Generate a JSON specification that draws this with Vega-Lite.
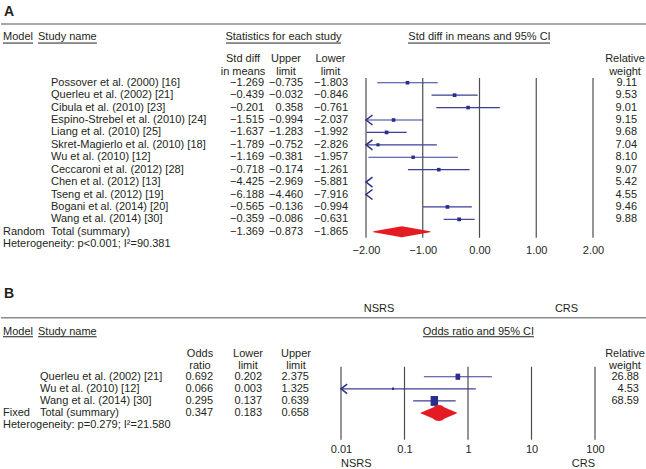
{
  "$schema": "https://vega.github.io/schema/vega-lite/v6.json",
  "padding": {"left": 0, "top": 2, "right": 0, "bottom": 0},
  "bounds": "full",
  "spacing": 30,
  "datasets": {
    "A": [
      {"row": "r1", "study": "Possover et al. (2000) [16]", "est": -1.269, "upper": -0.735, "lower": -1.803, "weight": 9.11},
      {"row": "r2", "study": "Querleu et al. (2002) [21]", "est": -0.439, "upper": -0.032, "lower": -0.846, "weight": 9.53},
      {"row": "r3", "study": "Cibula et al. (2010) [23]", "est": -0.201, "upper": 0.358, "lower": -0.761, "weight": 9.01},
      {"row": "r4", "study": "Espino-Strebel et al. (2010) [24]", "est": -1.515, "upper": -0.994, "lower": -2.037, "weight": 9.15},
      {"row": "r5", "study": "Liang et al. (2010) [25]", "est": -1.637, "upper": -1.283, "lower": -1.992, "weight": 9.68},
      {"row": "r6", "study": "Skret-Magierlo et al. (2010) [18]", "est": -1.789, "upper": -0.752, "lower": -2.826, "weight": 7.04},
      {"row": "r7", "study": "Wu et al. (2010) [12]", "est": -1.169, "upper": -0.381, "lower": -1.957, "weight": 8.10},
      {"row": "r8", "study": "Ceccaroni et al. (2012) [28]", "est": -0.718, "upper": -0.174, "lower": -1.261, "weight": 9.07},
      {"row": "r9", "study": "Chen et al. (2012) [13]", "est": -4.425, "upper": -2.969, "lower": -5.881, "weight": 5.42},
      {"row": "r10", "study": "Tseng et al. (2012) [19]", "est": -6.188, "upper": -4.460, "lower": -7.916, "weight": 4.55},
      {"row": "r11", "study": "Bogani et al. (2014) [20]", "est": -0.565, "upper": -0.136, "lower": -0.994, "weight": 9.46},
      {"row": "r12", "study": "Wang et al. (2014) [30]", "est": -0.359, "upper": -0.086, "lower": -0.631, "weight": 9.88},
      {"row": "total", "model": "Random", "study": "Total (summary)", "est": -1.369, "upper": -0.873, "lower": -1.865}
    ],
    "B": [
      {"row": "r1", "study": "Querleu et al. (2002) [21]", "odds": 0.692, "lower": 0.202, "upper": 2.375, "weight": 26.88},
      {"row": "r2", "study": "Wu et al. (2010) [12]", "odds": 0.066, "lower": 0.003, "upper": 1.325, "weight": 4.53},
      {"row": "r3", "study": "Wang et al. (2014) [30]", "odds": 0.295, "lower": 0.137, "upper": 0.639, "weight": 68.59},
      {"row": "total", "model": "Fixed", "study": "Total (summary)", "odds": 0.347, "lower": 0.183, "upper": 0.658}
    ]
  },
  "vconcat": [
    {
      "bounds": "flush",
      "spacing": 0,
      "hconcat": [
        {
          "width": 37, "height": 248.4,
          "encoding": {"y": {"field": "row", "type": "nominal", "axis": null, "scale": {"type": "point", "padding": 0.5, "domain": ["lbl","top","hdr","x1","sub","x2","r1","r2","r3","r4","r5","r6","r7","r8","r9","r10","r11","r12","total","het"]}}},
          "layer": [
            {"data": {"values": [{"row": "top"}]}, "mark": {"type": "rule", "color": "#8c8c8c", "strokeWidth": 1.5, "yOffset": 3.4}},
            {"data": {"values": [{"row": "lbl", "label": "A"}]}, "mark": {"type": "text", "align": "left", "fontSize": 14, "fontWeight": "bold", "yOffset": 3.8}, "encoding": {"x": {"datum": 0.08, "type": "quantitative", "scale": {"domain": [0, 1]}, "axis": null}, "text": {"field": "label"}}},
            {"data": {"values": [{"row": "hdr", "label": "Model"}]}, "mark": {"type": "text", "align": "left", "yOffset": 4}, "encoding": {"x": {"datum": 0.054, "type": "quantitative", "scale": {"domain": [0, 1]}, "axis": null}, "text": {"field": "label"}}},
            {"data": {"values": [{"row": "hdr"}]}, "mark": {"type": "rule", "color": "#231f20", "strokeWidth": 1, "yOffset": 10}, "encoding": {"x": {"datum": 0.054, "type": "quantitative", "scale": {"domain": [0, 1]}, "axis": null}, "x2": {"datum": 0.865}}},
            {"data": {"name": "A"}, "transform": [{"filter": "datum.row === 'total'"}], "mark": {"type": "text", "align": "left"}, "encoding": {"x": {"datum": 0.054, "type": "quantitative", "scale": {"domain": [0, 1]}, "axis": null}, "text": {"field": "model"}}},
            {"data": {"values": [{"row": "het", "label": "Heterogeneity: p<0.001; I²=90.381"}]}, "mark": {"type": "text", "align": "left"}, "encoding": {"x": {"datum": 0.054, "type": "quantitative", "scale": {"domain": [0, 1]}, "axis": null}, "text": {"field": "label"}}}
          ]
        },
        {
          "width": 168, "height": 248.4,
          "encoding": {"y": {"field": "row", "type": "nominal", "axis": null, "scale": {"type": "point", "padding": 0.5, "domain": ["lbl","top","hdr","x1","sub","x2","r1","r2","r3","r4","r5","r6","r7","r8","r9","r10","r11","r12","total","het"]}}},
          "layer": [
            {"data": {"values": [{"row": "top"}]}, "mark": {"type": "rule", "color": "#8c8c8c", "strokeWidth": 1.5, "yOffset": 3.4}},
            {"data": {"values": [{"row": "hdr", "label": "Study name"}]}, "mark": {"type": "text", "align": "left", "yOffset": 4}, "encoding": {"x": {"datum": 0, "type": "quantitative", "scale": {"domain": [0, 1]}, "axis": null}, "text": {"field": "label"}}},
            {"data": {"values": [{"row": "hdr"}]}, "mark": {"type": "rule", "color": "#231f20", "strokeWidth": 1, "yOffset": 10}, "encoding": {"x": {"datum": 0, "type": "quantitative", "scale": {"domain": [0, 1]}, "axis": null}, "x2": {"datum": 0.351}}},
            {"data": {"name": "A"}, "mark": {"type": "text", "align": "left"}, "encoding": {"x": {"datum": 0.0774, "type": "quantitative", "scale": {"domain": [0, 1]}, "axis": null}, "text": {"field": "study"}}}
          ]
        },
        {
          "width": 60, "height": 248.4,
          "encoding": {"y": {"field": "row", "type": "nominal", "axis": null, "scale": {"type": "point", "padding": 0.5, "domain": ["lbl","top","hdr","x1","sub","x2","r1","r2","r3","r4","r5","r6","r7","r8","r9","r10","r11","r12","total","het"]}}},
          "layer": [
            {"data": {"values": [{"row": "top"}]}, "mark": {"type": "rule", "color": "#8c8c8c", "strokeWidth": 1.5, "yOffset": 3.4}},
            {"data": {"values": [{"row": "sub", "label": "Std diff\nin means"}]}, "mark": {"type": "text", "align": "center", "yOffset": 1.2, "lineBreak": "\n", "lineHeight": 12.5}, "encoding": {"x": {"datum": 0.617, "type": "quantitative", "scale": {"domain": [0, 1]}, "axis": null}, "text": {"field": "label"}}},
            {"data": {"name": "A"}, "mark": {"type": "text", "align": "right"}, "encoding": {"x": {"datum": 0.967, "type": "quantitative", "scale": {"domain": [0, 1]}, "axis": null}, "text": {"field": "est", "type": "quantitative", "format": ".3f"}}}
          ]
        },
        {
          "width": 40, "height": 248.4,
          "encoding": {"y": {"field": "row", "type": "nominal", "axis": null, "scale": {"type": "point", "padding": 0.5, "domain": ["lbl","top","hdr","x1","sub","x2","r1","r2","r3","r4","r5","r6","r7","r8","r9","r10","r11","r12","total","het"]}}},
          "layer": [
            {"data": {"values": [{"row": "top"}]}, "mark": {"type": "rule", "color": "#8c8c8c", "strokeWidth": 1.5, "yOffset": 3.4}},
            {"data": {"values": [{"row": "hdr", "label": "Statistics for each study"}]}, "mark": {"type": "text", "align": "center", "yOffset": 4}, "encoding": {"x": {"datum": 0.4375, "type": "quantitative", "scale": {"domain": [0, 1]}, "axis": null}, "text": {"field": "label"}}},
            {"data": {"values": [{"row": "hdr"}]}, "mark": {"type": "rule", "color": "#231f20", "strokeWidth": 1, "yOffset": 10}, "encoding": {"x": {"datum": -1.0, "type": "quantitative", "scale": {"domain": [0, 1]}, "axis": null}, "x2": {"datum": 1.875}}},
            {"data": {"values": [{"row": "sub", "label": "Upper\nlimit"}]}, "mark": {"type": "text", "align": "center", "yOffset": 1.2, "lineBreak": "\n", "lineHeight": 12.5}, "encoding": {"x": {"datum": 0.5, "type": "quantitative", "scale": {"domain": [0, 1]}, "axis": null}, "text": {"field": "label"}}},
            {"data": {"name": "A"}, "mark": {"type": "text", "align": "right"}, "encoding": {"x": {"datum": 0.925, "type": "quantitative", "scale": {"domain": [0, 1]}, "axis": null}, "text": {"field": "upper", "type": "quantitative", "format": ".3f"}}}
          ]
        },
        {
          "width": 60, "height": 248.4,
          "encoding": {"y": {"field": "row", "type": "nominal", "axis": null, "scale": {"type": "point", "padding": 0.5, "domain": ["lbl","top","hdr","x1","sub","x2","r1","r2","r3","r4","r5","r6","r7","r8","r9","r10","r11","r12","total","het"]}}},
          "layer": [
            {"data": {"values": [{"row": "top"}]}, "mark": {"type": "rule", "color": "#8c8c8c", "strokeWidth": 1.5, "yOffset": 3.4}},
            {"data": {"values": [{"row": "sub", "label": "Lower\nlimit"}]}, "mark": {"type": "text", "align": "center", "yOffset": 1.2, "lineBreak": "\n", "lineHeight": 12.5}, "encoding": {"x": {"datum": 0.408, "type": "quantitative", "scale": {"domain": [0, 1]}, "axis": null}, "text": {"field": "label"}}},
            {"data": {"name": "A"}, "mark": {"type": "text", "align": "right"}, "encoding": {"x": {"datum": 0.7, "type": "quantitative", "scale": {"domain": [0, 1]}, "axis": null}, "text": {"field": "lower", "type": "quantitative", "format": ".3f"}}}
          ]
        },
        {
          "width": 227, "height": 248.4,
          "encoding": {"y": {"field": "row", "type": "nominal", "axis": null, "scale": {"type": "point", "padding": 0.5, "domain": ["lbl","top","hdr","x1","sub","x2","r1","r2","r3","r4","r5","r6","r7","r8","r9","r10","r11","r12","total","het"]}}},
          "layer": [
            {"data": {"values": [{"tick": -2}, {"tick": -1}, {"tick": 0}, {"tick": 1}, {"tick": 2}]}, "mark": {"type": "rule", "color": "#4d4d4d", "strokeWidth": 1.2, "yOffset": -4.7, "y2Offset": -6.4},
             "encoding": {"x": {"field": "tick", "type": "quantitative", "scale": {"domain": [-2, 2], "clamp": true, "nice": false}, "axis": {"values": [-2, -1, 0, 1, 2], "format": ".2f", "title": null, "domain": false, "ticks": false, "grid": false, "labelFlush": false, "labelOverlap": false, "labelPadding": -6}}, "y": {"datum": "r1"}, "y2": {"datum": "het"}}},
            {"data": {"values": [{"row": "top"}]}, "mark": {"type": "rule", "color": "#8c8c8c", "strokeWidth": 1.5, "yOffset": 3.4}},
            {"data": {"values": [{"row": "hdr", "label": "Std diff in means and 95% CI"}]}, "mark": {"type": "text", "align": "center", "yOffset": 4}, "encoding": {"x": {"datum": 0, "type": "quantitative", "axis": {"values": [-2, -1, 0, 1, 2], "format": ".2f", "title": null, "domain": false, "ticks": false, "grid": false, "labelFlush": false, "labelOverlap": false, "labelPadding": -6}}, "text": {"field": "label"}}},
            {"data": {"values": [{"row": "hdr"}]}, "mark": {"type": "rule", "color": "#231f20", "strokeWidth": 1, "yOffset": 10}, "encoding": {"x": {"datum": -1.26, "type": "quantitative", "axis": {"values": [-2, -1, 0, 1, 2], "format": ".2f", "title": null, "domain": false, "ticks": false, "grid": false, "labelFlush": false, "labelOverlap": false, "labelPadding": -6}}, "x2": {"datum": 1.242}}},
            {"data": {"name": "A"}, "transform": [{"filter": "datum.row !== 'total' && datum.upper > -2"}], "mark": {"type": "rule", "color": "#3a3e96", "strokeWidth": 1.2},
             "encoding": {"x": {"field": "lower", "type": "quantitative", "axis": {"values": [-2, -1, 0, 1, 2], "format": ".2f", "title": null, "domain": false, "ticks": false, "grid": false, "labelFlush": false, "labelOverlap": false, "labelPadding": -6}}, "x2": {"field": "upper"}}},
            {"data": {"name": "A"}, "transform": [{"filter": "datum.row !== 'total' && datum.lower < -2"}], "mark": {"type": "point", "shape": "M1.3,-1L0,0L1.3,1", "size": 100, "filled": false, "fill": null, "stroke": "#2a2d8b", "strokeWidth": 1.5, "opacity": 1},
             "encoding": {"x": {"field": "lower", "type": "quantitative", "axis": {"values": [-2, -1, 0, 1, 2], "format": ".2f", "title": null, "domain": false, "ticks": false, "grid": false, "labelFlush": false, "labelOverlap": false, "labelPadding": -6}}}},
            {"data": {"name": "A"}, "transform": [{"filter": "datum.row !== 'total' && datum.est >= -2"}], "mark": {"type": "point", "shape": "square", "filled": true, "color": "#2a2d8b", "opacity": 1},
             "encoding": {"x": {"field": "est", "type": "quantitative", "axis": {"values": [-2, -1, 0, 1, 2], "format": ".2f", "title": null, "domain": false, "ticks": false, "grid": false, "labelFlush": false, "labelOverlap": false, "labelPadding": -6}}, "size": {"field": "weight", "type": "quantitative", "scale": {"type": "linear", "domain": [0, 10], "range": [0, 100]}, "legend": null}}},
            {"data": {"name": "A"}, "transform": [{"filter": "datum.row === 'total'"}, {"fold": ["lower", "est", "upper"], "as": ["key", "value"]}], "mark": {"type": "trail", "color": "#e41b23"},
             "encoding": {"x": {"field": "value", "type": "quantitative", "axis": {"values": [-2, -1, 0, 1, 2], "format": ".2f", "title": null, "domain": false, "ticks": false, "grid": false, "labelFlush": false, "labelOverlap": false, "labelPadding": -6}}, "size": {"condition": {"test": "datum.key === 'est'", "value": 11}, "value": 0}, "order": {"field": "value", "type": "quantitative"}}}
          ]
        },
        {
          "width": 54, "height": 248.4,
          "encoding": {"y": {"field": "row", "type": "nominal", "axis": null, "scale": {"type": "point", "padding": 0.5, "domain": ["lbl","top","hdr","x1","sub","x2","r1","r2","r3","r4","r5","r6","r7","r8","r9","r10","r11","r12","total","het"]}}},
          "layer": [
            {"data": {"values": [{"row": "top"}]}, "mark": {"type": "rule", "color": "#8c8c8c", "strokeWidth": 1.5, "yOffset": 3.4}},
            {"data": {"values": [{"row": "sub", "label": "Relative\nweight"}]}, "mark": {"type": "text", "align": "center", "yOffset": 1.2, "lineBreak": "\n", "lineHeight": 12.5}, "encoding": {"x": {"datum": 0.593, "type": "quantitative", "scale": {"domain": [0, 1]}, "axis": null}, "text": {"field": "label"}}},
            {"data": {"name": "A"}, "transform": [{"filter": "isValid(datum.weight)"}], "mark": {"type": "text", "align": "right"}, "encoding": {"x": {"datum": 0.815, "type": "quantitative", "scale": {"domain": [0, 1]}, "axis": null}, "text": {"field": "weight", "type": "quantitative", "format": ".2f"}}}
          ]
        }
      ]
    },
    {
      "bounds": "flush",
      "spacing": 0,
      "hconcat": [
        {
          "width": 37, "height": 145.2,
          "encoding": {"y": {"field": "row", "type": "nominal", "axis": null, "scale": {"type": "point", "padding": 0.5, "domain": ["lbl","nsrs","top","hdr","x1","sub","x2","r1","r2","r3","total","het"]}}},
          "layer": [
            {"data": {"values": [{"row": "top"}]}, "mark": {"type": "rule", "color": "#8c8c8c", "strokeWidth": 1.5, "yOffset": 1.5}},
            {"data": {"values": [{"row": "lbl", "label": "B"}]}, "mark": {"type": "text", "align": "left", "fontSize": 14, "fontWeight": "bold", "yOffset": 1.7}, "encoding": {"x": {"datum": 0.08, "type": "quantitative", "scale": {"domain": [0, 1]}, "axis": null}, "text": {"field": "label"}}},
            {"data": {"values": [{"row": "hdr", "label": "Model"}]}, "mark": {"type": "text", "align": "left", "yOffset": 3.4}, "encoding": {"x": {"datum": 0.054, "type": "quantitative", "scale": {"domain": [0, 1]}, "axis": null}, "text": {"field": "label"}}},
            {"data": {"values": [{"row": "hdr"}]}, "mark": {"type": "rule", "color": "#231f20", "strokeWidth": 1, "yOffset": 8.4}, "encoding": {"x": {"datum": 0.054, "type": "quantitative", "scale": {"domain": [0, 1]}, "axis": null}, "x2": {"datum": 0.865}}},
            {"data": {"name": "B"}, "transform": [{"filter": "datum.row === 'total'"}], "mark": {"type": "text", "align": "left"}, "encoding": {"x": {"datum": 0.054, "type": "quantitative", "scale": {"domain": [0, 1]}, "axis": null}, "text": {"field": "model"}}},
            {"data": {"values": [{"row": "het", "label": "Heterogeneity: p=0.279; I²=21.580"}]}, "mark": {"type": "text", "align": "left"}, "encoding": {"x": {"datum": 0.054, "type": "quantitative", "scale": {"domain": [0, 1]}, "axis": null}, "text": {"field": "label"}}}
          ]
        },
        {
          "width": 138, "height": 145.2,
          "encoding": {"y": {"field": "row", "type": "nominal", "axis": null, "scale": {"type": "point", "padding": 0.5, "domain": ["lbl","nsrs","top","hdr","x1","sub","x2","r1","r2","r3","total","het"]}}},
          "layer": [
            {"data": {"values": [{"row": "top"}]}, "mark": {"type": "rule", "color": "#8c8c8c", "strokeWidth": 1.5, "yOffset": 1.5}},
            {"data": {"values": [{"row": "hdr", "label": "Study name"}]}, "mark": {"type": "text", "align": "left", "yOffset": 3.4}, "encoding": {"x": {"datum": 0, "type": "quantitative", "scale": {"domain": [0, 1]}, "axis": null}, "text": {"field": "label"}}},
            {"data": {"values": [{"row": "hdr"}]}, "mark": {"type": "rule", "color": "#231f20", "strokeWidth": 1, "yOffset": 8.4}, "encoding": {"x": {"datum": 0, "type": "quantitative", "scale": {"domain": [0, 1]}, "axis": null}, "x2": {"datum": 0.425}}},
            {"data": {"name": "B"}, "mark": {"type": "text", "align": "left"}, "encoding": {"x": {"datum": 0.0145, "type": "quantitative", "scale": {"domain": [0, 1]}, "axis": null}, "text": {"field": "study"}}}
          ]
        },
        {
          "width": 48, "height": 145.2,
          "encoding": {"y": {"field": "row", "type": "nominal", "axis": null, "scale": {"type": "point", "padding": 0.5, "domain": ["lbl","nsrs","top","hdr","x1","sub","x2","r1","r2","r3","total","het"]}}},
          "layer": [
            {"data": {"values": [{"row": "top"}]}, "mark": {"type": "rule", "color": "#8c8c8c", "strokeWidth": 1.5, "yOffset": 1.5}},
            {"data": {"values": [{"row": "sub", "label": "Odds\nratio"}]}, "mark": {"type": "text", "align": "center", "yOffset": 1.2, "lineBreak": "\n", "lineHeight": 12}, "encoding": {"x": {"datum": 0.5, "type": "quantitative", "scale": {"domain": [0, 1]}, "axis": null}, "text": {"field": "label"}}},
            {"data": {"name": "B"}, "mark": {"type": "text", "align": "right"}, "encoding": {"x": {"datum": 0.771, "type": "quantitative", "scale": {"domain": [0, 1]}, "axis": null}, "text": {"field": "odds", "type": "quantitative", "format": ".3f"}}}
          ]
        },
        {
          "width": 48, "height": 145.2,
          "encoding": {"y": {"field": "row", "type": "nominal", "axis": null, "scale": {"type": "point", "padding": 0.5, "domain": ["lbl","nsrs","top","hdr","x1","sub","x2","r1","r2","r3","total","het"]}}},
          "layer": [
            {"data": {"values": [{"row": "top"}]}, "mark": {"type": "rule", "color": "#8c8c8c", "strokeWidth": 1.5, "yOffset": 1.5}},
            {"data": {"values": [{"row": "sub", "label": "Lower\nlimit"}]}, "mark": {"type": "text", "align": "center", "yOffset": 1.2, "lineBreak": "\n", "lineHeight": 12}, "encoding": {"x": {"datum": 0.5, "type": "quantitative", "scale": {"domain": [0, 1]}, "axis": null}, "text": {"field": "label"}}},
            {"data": {"name": "B"}, "mark": {"type": "text", "align": "right"}, "encoding": {"x": {"datum": 0.792, "type": "quantitative", "scale": {"domain": [0, 1]}, "axis": null}, "text": {"field": "lower", "type": "quantitative", "format": ".3f"}}}
          ]
        },
        {
          "width": 69, "height": 145.2,
          "encoding": {"y": {"field": "row", "type": "nominal", "axis": null, "scale": {"type": "point", "padding": 0.5, "domain": ["lbl","nsrs","top","hdr","x1","sub","x2","r1","r2","r3","total","het"]}}},
          "layer": [
            {"data": {"values": [{"row": "top"}]}, "mark": {"type": "rule", "color": "#8c8c8c", "strokeWidth": 1.5, "yOffset": 1.5}},
            {"data": {"values": [{"row": "sub", "label": "Upper\nlimit"}]}, "mark": {"type": "text", "align": "center", "yOffset": 1.2, "lineBreak": "\n", "lineHeight": 12}, "encoding": {"x": {"datum": 0.348, "type": "quantitative", "scale": {"domain": [0, 1]}, "axis": null}, "text": {"field": "label"}}},
            {"data": {"name": "B"}, "mark": {"type": "text", "align": "right"}, "encoding": {"x": {"datum": 0.536, "type": "quantitative", "scale": {"domain": [0, 1]}, "axis": null}, "text": {"field": "upper", "type": "quantitative", "format": ".3f"}}}
          ]
        },
        {
          "width": 254, "height": 145.2,
          "encoding": {"y": {"field": "row", "type": "nominal", "axis": null, "scale": {"type": "point", "padding": 0.5, "domain": ["lbl","nsrs","top","hdr","x1","sub","x2","r1","r2","r3","total","het"]}}},
          "layer": [
            {"data": {"values": [{"tick": 0.01}, {"tick": 0.1}, {"tick": 1}, {"tick": 10}, {"tick": 100}]}, "mark": {"type": "rule", "color": "#4d4d4d", "strokeWidth": 1.2, "yOffset": -10, "y2Offset": 14.6},
             "encoding": {"x": {"field": "tick", "type": "quantitative", "scale": {"type": "log", "domain": [0.01, 100], "clamp": true, "nice": false}, "axis": {"values": [0.01, 0.1, 1, 10, 100], "format": "~g", "title": null, "domain": false, "ticks": false, "grid": false, "labelFlush": false, "labelOverlap": false, "labelPadding": 12}}, "y": {"datum": "r1"}, "y2": {"datum": "het"}}},
            {"data": {"values": [{"row": "top"}]}, "mark": {"type": "rule", "color": "#8c8c8c", "strokeWidth": 1.5, "yOffset": 1.5}},
            {"data": {"values": [{"row": "nsrs", "label": "NSRS"}]}, "mark": {"type": "text", "align": "center", "yOffset": 4.6}, "encoding": {"x": {"datum": 0.0398, "type": "quantitative", "axis": {"values": [0.01, 0.1, 1, 10, 100], "format": "~g", "title": null, "domain": false, "ticks": false, "grid": false, "labelFlush": false, "labelOverlap": false, "labelPadding": 12}}, "text": {"field": "label"}}},
            {"data": {"values": [{"row": "nsrs", "label": "CRS"}]}, "mark": {"type": "text", "align": "center", "yOffset": 4.6}, "encoding": {"x": {"datum": 35.6, "type": "quantitative", "axis": {"values": [0.01, 0.1, 1, 10, 100], "format": "~g", "title": null, "domain": false, "ticks": false, "grid": false, "labelFlush": false, "labelOverlap": false, "labelPadding": 12}}, "text": {"field": "label"}}},
            {"data": {"values": [{"row": "het", "label": "NSRS"}]}, "mark": {"type": "text", "align": "left", "yOffset": 38.6}, "encoding": {"x": {"datum": 0.01, "type": "quantitative", "axis": {"values": [0.01, 0.1, 1, 10, 100], "format": "~g", "title": null, "domain": false, "ticks": false, "grid": false, "labelFlush": false, "labelOverlap": false, "labelPadding": 12}}, "text": {"field": "label"}}},
            {"data": {"values": [{"row": "het", "label": "CRS"}]}, "mark": {"type": "text", "align": "right", "yOffset": 38.6}, "encoding": {"x": {"datum": 100, "type": "quantitative", "axis": {"values": [0.01, 0.1, 1, 10, 100], "format": "~g", "title": null, "domain": false, "ticks": false, "grid": false, "labelFlush": false, "labelOverlap": false, "labelPadding": 12}}, "text": {"field": "label"}}},
            {"data": {"values": [{"row": "hdr", "label": "Odds ratio and 95% CI"}]}, "mark": {"type": "text", "align": "center", "yOffset": 3.4}, "encoding": {"x": {"datum": 1.46, "type": "quantitative", "axis": {"values": [0.01, 0.1, 1, 10, 100], "format": "~g", "title": null, "domain": false, "ticks": false, "grid": false, "labelFlush": false, "labelOverlap": false, "labelPadding": 12}}, "text": {"field": "label"}}},
            {"data": {"values": [{"row": "hdr"}]}, "mark": {"type": "rule", "color": "#231f20", "strokeWidth": 1, "yOffset": 8.4}, "encoding": {"x": {"datum": 0.195, "type": "quantitative", "axis": {"values": [0.01, 0.1, 1, 10, 100], "format": "~g", "title": null, "domain": false, "ticks": false, "grid": false, "labelFlush": false, "labelOverlap": false, "labelPadding": 12}}, "x2": {"datum": 10.9}}},
            {"data": {"name": "B"}, "transform": [{"filter": "datum.row !== 'total' && datum.upper > 0.01"}], "mark": {"type": "rule", "color": "#3a3e96", "strokeWidth": 1.2},
             "encoding": {"x": {"field": "lower", "type": "quantitative", "axis": {"values": [0.01, 0.1, 1, 10, 100], "format": "~g", "title": null, "domain": false, "ticks": false, "grid": false, "labelFlush": false, "labelOverlap": false, "labelPadding": 12}}, "x2": {"field": "upper"}}},
            {"data": {"name": "B"}, "transform": [{"filter": "datum.row !== 'total' && datum.lower < 0.01"}], "mark": {"type": "point", "shape": "M1.3,-1L0,0L1.3,1", "size": 90, "filled": false, "fill": null, "stroke": "#2a2d8b", "strokeWidth": 1.5, "opacity": 1},
             "encoding": {"x": {"field": "lower", "type": "quantitative", "axis": {"values": [0.01, 0.1, 1, 10, 100], "format": "~g", "title": null, "domain": false, "ticks": false, "grid": false, "labelFlush": false, "labelOverlap": false, "labelPadding": 12}}}},
            {"data": {"name": "B"}, "transform": [{"filter": "datum.row !== 'total' && datum.odds >= 0.01"}], "mark": {"type": "point", "shape": "M-0.75,-1H0.75V1H-0.75Z", "filled": true, "color": "#2a2d8b", "opacity": 1},
             "encoding": {"x": {"field": "odds", "type": "quantitative", "axis": {"values": [0.01, 0.1, 1, 10, 100], "format": "~g", "title": null, "domain": false, "ticks": false, "grid": false, "labelFlush": false, "labelOverlap": false, "labelPadding": 12}}, "size": {"field": "weight", "type": "quantitative", "scale": {"type": "linear", "domain": [0, 70], "range": [0, 200]}, "legend": null}}},
            {"data": {"name": "B"}, "transform": [{"filter": "datum.row === 'total'"}, {"fold": ["lower", "odds", "upper"], "as": ["key", "value"]}], "mark": {"type": "trail", "color": "#e41b23"},
             "encoding": {"x": {"field": "value", "type": "quantitative", "axis": {"values": [0.01, 0.1, 1, 10, 100], "format": "~g", "title": null, "domain": false, "ticks": false, "grid": false, "labelFlush": false, "labelOverlap": false, "labelPadding": 12}}, "size": {"condition": {"test": "datum.key === 'odds'", "value": 16}, "value": 0}, "order": {"field": "value", "type": "quantitative"}}}
          ]
        },
        {
          "width": 52, "height": 145.2,
          "encoding": {"y": {"field": "row", "type": "nominal", "axis": null, "scale": {"type": "point", "padding": 0.5, "domain": ["lbl","nsrs","top","hdr","x1","sub","x2","r1","r2","r3","total","het"]}}},
          "layer": [
            {"data": {"values": [{"row": "top"}]}, "mark": {"type": "rule", "color": "#8c8c8c", "strokeWidth": 1.5, "yOffset": 1.5}},
            {"data": {"values": [{"row": "sub", "label": "Relative\nweight"}]}, "mark": {"type": "text", "align": "center", "yOffset": 1.2, "lineBreak": "\n", "lineHeight": 12}, "encoding": {"x": {"datum": 0.577, "type": "quantitative", "scale": {"domain": [0, 1]}, "axis": null}, "text": {"field": "label"}}},
            {"data": {"name": "B"}, "transform": [{"filter": "isValid(datum.weight)"}], "mark": {"type": "text", "align": "right"}, "encoding": {"x": {"datum": 0.846, "type": "quantitative", "scale": {"domain": [0, 1]}, "axis": null}, "text": {"field": "weight", "type": "quantitative", "format": ".2f"}}}
          ]
        }
      ]
    }
  ],
  "config": {
    "view": {"stroke": null},
    "font": "Liberation Sans",
    "text": {"font": "Liberation Sans", "fontSize": 11, "color": "#231f20", "baseline": "middle"},
    "axis": {"labelFont": "Liberation Sans", "labelFontSize": 11, "labelColor": "#231f20"}
  }
}
